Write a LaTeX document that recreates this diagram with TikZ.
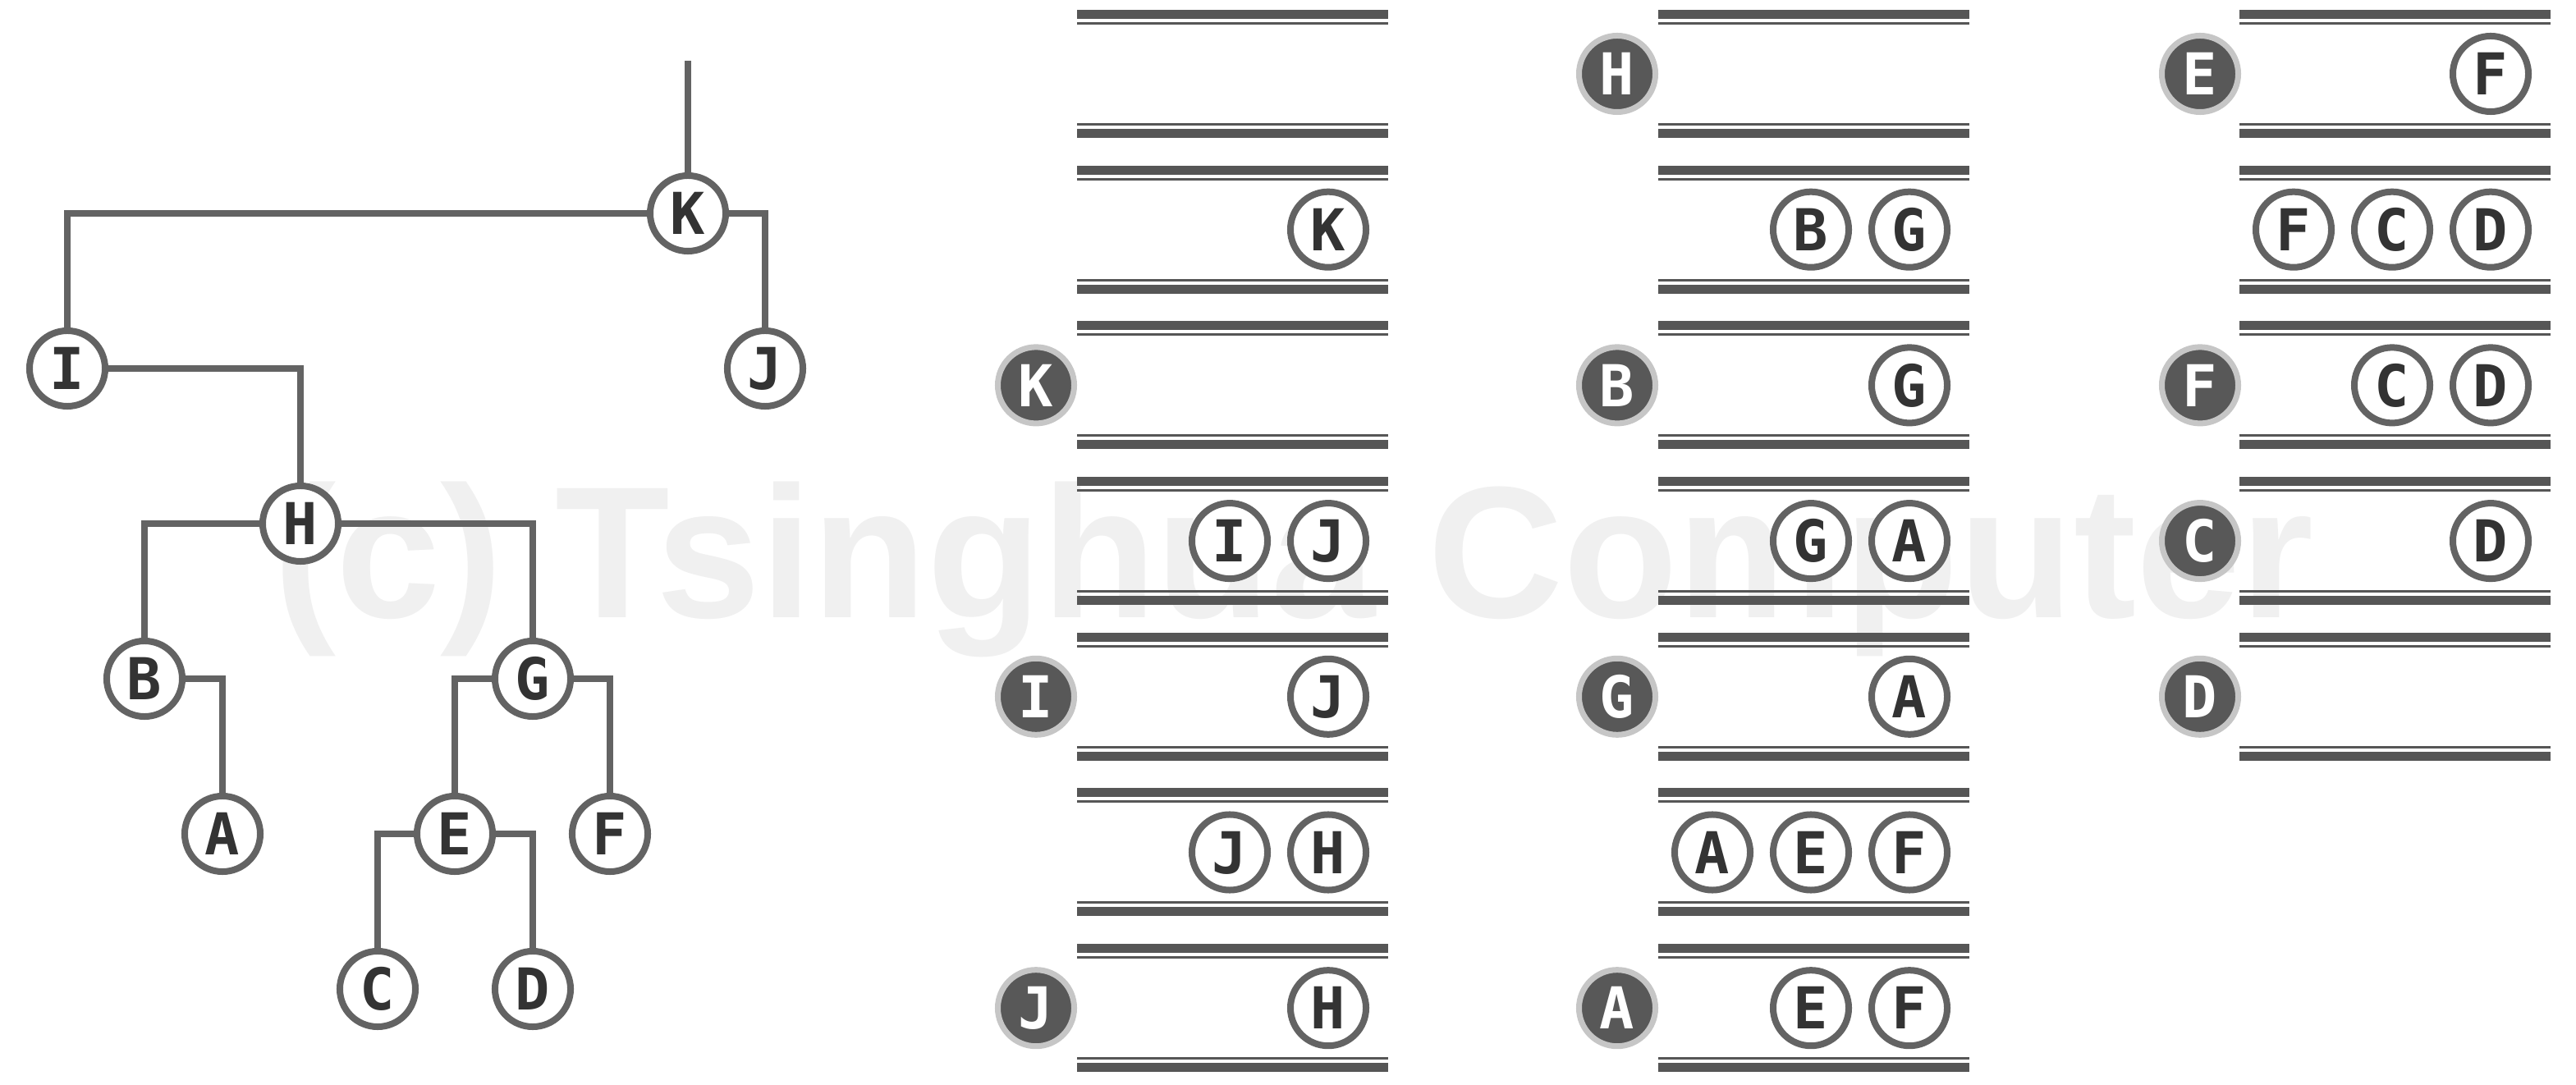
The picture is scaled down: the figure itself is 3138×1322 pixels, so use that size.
\documentclass[tikz,border=0pt]{standalone}
\usepackage{fontspec}
\newfontfamily\lett{DejaVu Sans Mono}
\newfontfamily\wmfont{Liberation Sans}
\definecolor{linec}{HTML}{636363}
\definecolor{barc}{HTML}{565656}
\definecolor{txtc}{HTML}{333333}
\definecolor{darkc}{HTML}{585858}
\definecolor{haloc}{HTML}{C6C6C6}
\definecolor{wmc}{HTML}{F0F0F0}
\tikzset{
  tn/.style={circle, draw=linec, line width=0.08cm, fill=white, minimum size=0.92cm, inner sep=0pt,
    font=\lett\bfseries\fontsize{20}{20}\selectfont, text=txtc, text height=14.6pt, text depth=0pt},
  qn/.style={tn},
  dn/.style={circle, draw=haloc, line width=0.07cm, fill=darkc, minimum size=0.93cm, inner sep=0pt,
    font=\lett\bfseries\fontsize{20}{20}\selectfont, text=white, text height=14.6pt, text depth=0pt},
  edge/.style={draw=linec, line width=0.08cm, line join=miter},
}
\begin{document}
\begin{tikzpicture}[x=0.01cm,y=-0.01cm]
\useasboundingbox (0,0) rectangle (3138,1322);
% watermark
\node[anchor=base west, inner sep=0pt, text=wmc, font=\wmfont\bfseries\fontsize{65}{65}\selectfont] (wm) at (333,753) {(c) Tsinghua Computer};
% queue bars
\foreach \c/\nr in {1312/6, 2020/6, 2728/4} {
  \foreach \r in {0,...,\nr} {
    \pgfmathsetmacro\yy{90+189.7*\r}
    \fill[barc] (\c,\yy-78) rectangle (\c+379,\yy-67);
    \fill[barc] (\c,\yy-63) rectangle (\c+379,\yy-60);
    \fill[barc] (\c,\yy+60) rectangle (\c+379,\yy+63);
    \fill[barc] (\c,\yy+67) rectangle (\c+379,\yy+78);
  }
}
% tree nodes
\node[tn] (K) at (838,260) {K};
\node[tn] (I) at (82,449) {I};
\node[tn] (J) at (932,449) {J};
\node[tn] (H) at (366,638) {H};
\node[tn] (B) at (176,827) {B};
\node[tn] (G) at (649,827) {G};
\node[tn] (A) at (271,1016) {A};
\node[tn] (E) at (554,1016) {E};
\node[tn] (F) at (743,1016) {F};
\node[tn] (C) at (460,1205) {C};
\node[tn] (D) at (649,1205) {D};
\coordinate (top) at (838,74);
% tree edges
\draw[edge] (top) -- (K.north);
\draw[edge] (K.west) -| (I.north);
\draw[edge] (K.east) -| (J.north);
\draw[edge] (I.east) -| (H.north);
\draw[edge] (H.west) -| (B.north);
\draw[edge] (H.east) -| (G.north);
\draw[edge] (B.east) -| (A.north);
\draw[edge] (G.west) -| (E.north);
\draw[edge] (G.east) -| (F.north);
\draw[edge] (E.west) -| (C.north);
\draw[edge] (E.east) -| (D.north);
% column 1 (rows y: 90, 279.7, 469.4, 659.1, 848.8, 1038.5, 1228.2)
\node[qn] (q1r1a) at (1618,279.7) {K};
\node[dn] (d1r2) at (1262,469.4) {K};
\node[qn] (q1r3a) at (1498,659.1) {I};
\node[qn] (q1r3b) at (1618,659.1) {J};
\node[dn] (d1r4) at (1262,848.8) {I};
\node[qn] (q1r4a) at (1618,848.8) {J};
\node[qn] (q1r5a) at (1498,1038.5) {J};
\node[qn] (q1r5b) at (1618,1038.5) {H};
\node[dn] (d1r6) at (1262,1228.2) {J};
\node[qn] (q1r6a) at (1618,1228.2) {H};
% column 2
\node[dn] (d2r0) at (1970,90) {H};
\node[qn] (q2r1a) at (2206,279.7) {B};
\node[qn] (q2r1b) at (2326,279.7) {G};
\node[dn] (d2r2) at (1970,469.4) {B};
\node[qn] (q2r2a) at (2326,469.4) {G};
\node[qn] (q2r3a) at (2206,659.1) {G};
\node[qn] (q2r3b) at (2326,659.1) {A};
\node[dn] (d2r4) at (1970,848.8) {G};
\node[qn] (q2r4a) at (2326,848.8) {A};
\node[qn] (q2r5a) at (2086,1038.5) {A};
\node[qn] (q2r5b) at (2206,1038.5) {E};
\node[qn] (q2r5c) at (2326,1038.5) {F};
\node[dn] (d2r6) at (1970,1228.2) {A};
\node[qn] (q2r6a) at (2206,1228.2) {E};
\node[qn] (q2r6b) at (2326,1228.2) {F};
% column 3
\node[dn] (d3r0) at (2680,90) {E};
\node[qn] (q3r0a) at (3034,90) {F};
\node[qn] (q3r1a) at (2794,279.7) {F};
\node[qn] (q3r1b) at (2914,279.7) {C};
\node[qn] (q3r1c) at (3034,279.7) {D};
\node[dn] (d3r2) at (2680,469.4) {F};
\node[qn] (q3r2a) at (2914,469.4) {C};
\node[qn] (q3r2b) at (3034,469.4) {D};
\node[dn] (d3r3) at (2680,659.1) {C};
\node[qn] (q3r3a) at (3034,659.1) {D};
\node[dn] (d3r4) at (2680,848.8) {D};
\end{tikzpicture}
\end{document}
